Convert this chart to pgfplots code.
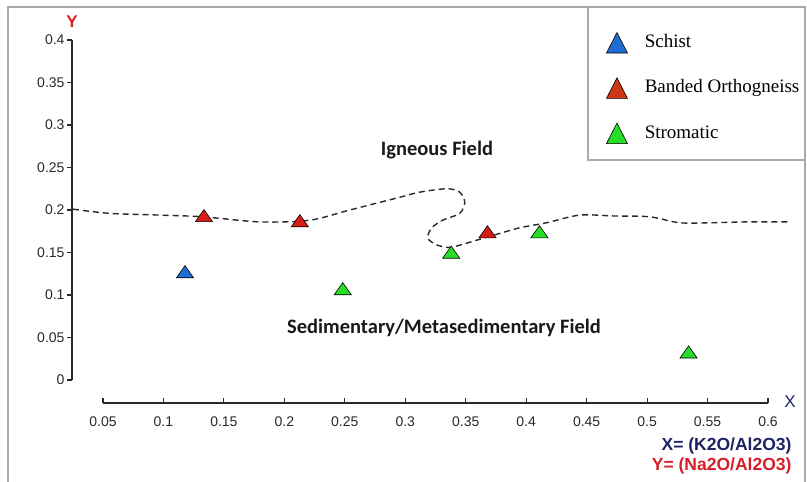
\documentclass[border=0pt]{standalone}
\usepackage{pgfplots}
\pgfplotsset{compat=1.18}
\usepackage{fontspec}
\setmainfont{Liberation Sans}
\newfontfamily\legfont{Liberation Serif}
\newfontfamily\fieldfont{Carlito}

\definecolor{schist}{RGB}{30,110,210}
\definecolor{banded}{RGB}{215,30,20}
\definecolor{bandedleg}{RGB}{205,55,20}
\definecolor{strom}{RGB}{40,220,40}
\definecolor{axiscol}{RGB}{40,40,40}
\definecolor{navy}{RGB}{30,35,100}
\definecolor{yred}{RGB}{215,30,40}
\definecolor{framegray}{RGB}{170,170,170}

\begin{document}
\begin{tikzpicture}
\useasboundingbox (-72pt,-79pt) rectangle (735pt,403pt);

\begin{axis}[
    scale only axis,
    width=696pt, height=363pt,
    xmin=0.02438, xmax=0.6,
    ymin=-0.02706, ymax=0.4,
    clip=false,
    axis line style={draw=none},
    xtick={0.05,0.1,0.15,0.2,0.25,0.3,0.35,0.4,0.45,0.5,0.55,0.6},
    ytick={0,0.05,0.1,0.15,0.2,0.25,0.3,0.35,0.4},
    tick pos=left,
    tick align=inside,
    major tick length=5pt,
    every tick/.style={axiscol, line width=1.1pt},
    major y tick style={xshift=-5pt},
    scaled ticks=false,
    tick label style={font=\fontsize{14}{16}\selectfont, text=axiscol,
        /pgf/number format/fixed, /pgf/number format/precision=2,
        /pgf/number format/assume math mode=true},
    yticklabel style={xshift=-4pt},
    xticklabel style={yshift=-10pt},
    legend cell align=left,
    legend style={at={(0.7672,1.022)}, anchor=north west, draw=none, fill=none,
        inner sep=0pt, row sep=24pt, column sep=15pt,
        font=\fontsize{19}{22}\selectfont\legfont,
        nodes={text height=13pt, text depth=4pt}},
]

% boundary curve between the two fields
\addplot[forget plot, smooth, dash pattern=on 6pt off 4pt, axiscol, line width=1.4pt]
coordinates {
    (0.0252,0.201) (0.0558,0.196) (0.0971,0.194) (0.1326,0.192)
    (0.1798,0.186) (0.2211,0.188) (0.2541,0.200) (0.2955,0.215)
    (0.3120,0.221) (0.3343,0.225) (0.3450,0.221) (0.3492,0.209)
    (0.3450,0.196) (0.3310,0.188) (0.3219,0.179) (0.3186,0.167)
    (0.3260,0.159) (0.3368,0.156) (0.3508,0.161) (0.3698,0.169)
    (0.3946,0.179) (0.4169,0.185) (0.4442,0.194) (0.4715,0.193)
    (0.5021,0.192) (0.5269,0.185) (0.5541,0.185) (0.5822,0.186)
    (0.6178,0.186)
};

\addplot[only marks, mark=triangle*, mark size=9pt, draw=black, fill=schist,
    mark options={xscale=1.1, yscale=0.9, line width=0.6pt},
    legend image code/.code={\filldraw[draw=black, fill=schist, line width=0.6pt]
        (0pt,-10pt) -- (21pt,-10pt) -- (10.5pt,10.5pt) -- cycle;}]
coordinates {(0.1178,0.125)};
\addlegendentry{Schist}

\addplot[only marks, mark=triangle*, mark size=9pt, draw=black, fill=banded,
    mark options={xscale=1.1, yscale=0.9, line width=0.6pt},
    legend image code/.code={\filldraw[draw=black, fill=bandedleg, line width=0.6pt]
        (0pt,-10pt) -- (21pt,-10pt) -- (10.5pt,10.5pt) -- cycle;}]
coordinates {(0.1335,0.191) (0.2128,0.185) (0.368,0.172)};
\addlegendentry{Banded Orthogneiss}

\addplot[only marks, mark=triangle*, mark size=9pt, draw=black, fill=strom,
    mark options={xscale=1.1, yscale=0.9, line width=0.6pt},
    legend image code/.code={\filldraw[draw=black, fill=strom, line width=0.6pt]
        (0pt,-10pt) -- (21pt,-10pt) -- (10.5pt,10.5pt) -- cycle;}]
coordinates {(0.2483,0.105) (0.338,0.148) (0.411,0.172) (0.5343,0.0306)};
\addlegendentry{Stromatic}

% detached axis lines
\draw[axiscol, line width=1.2pt] (axis cs:0.05,-0.02706) -- (axis cs:0.6,-0.02706);
\draw[axiscol, line width=1.2pt] (axis cs:0.02438,0) -- (axis cs:0.02438,0.4);
\end{axis}

% outer frame and legend box
\draw[framegray, line width=2pt] (-64pt,-79pt) -- (-64pt,396pt) -- (733pt,396pt) -- (733pt,-79pt);
\draw[framegray, line width=1.5pt] (516pt,396pt) -- (516pt,243pt) -- (733pt,243pt);

% axis names
\node[text=yred, font=\fontsize{17}{19}\selectfont\bfseries] at (0pt,381pt) {Y};
\node[text=navy, font=\fontsize{17}{19}\selectfont] at (718pt,1pt) {X};
\node[anchor=east, text=navy, font=\fontsize{17.5}{20}\selectfont\bfseries] at (723pt,-43pt) {X= (K2O/Al2O3)};
\node[anchor=east, text=yred, font=\fontsize{17.5}{20}\selectfont\bfseries] at (723pt,-63pt) {Y= (Na2O/Al2O3)};

% field names
\node[font=\fontsize{20.5}{24}\selectfont\fieldfont\bfseries, text=black!90] at (365pt,253pt) {Igneous Field};
\node[font=\fontsize{20.5}{24}\selectfont\fieldfont\bfseries, text=black!90] at (372pt,75pt) {Sedimentary/Metasedimentary Field};
\end{tikzpicture}
\end{document}
